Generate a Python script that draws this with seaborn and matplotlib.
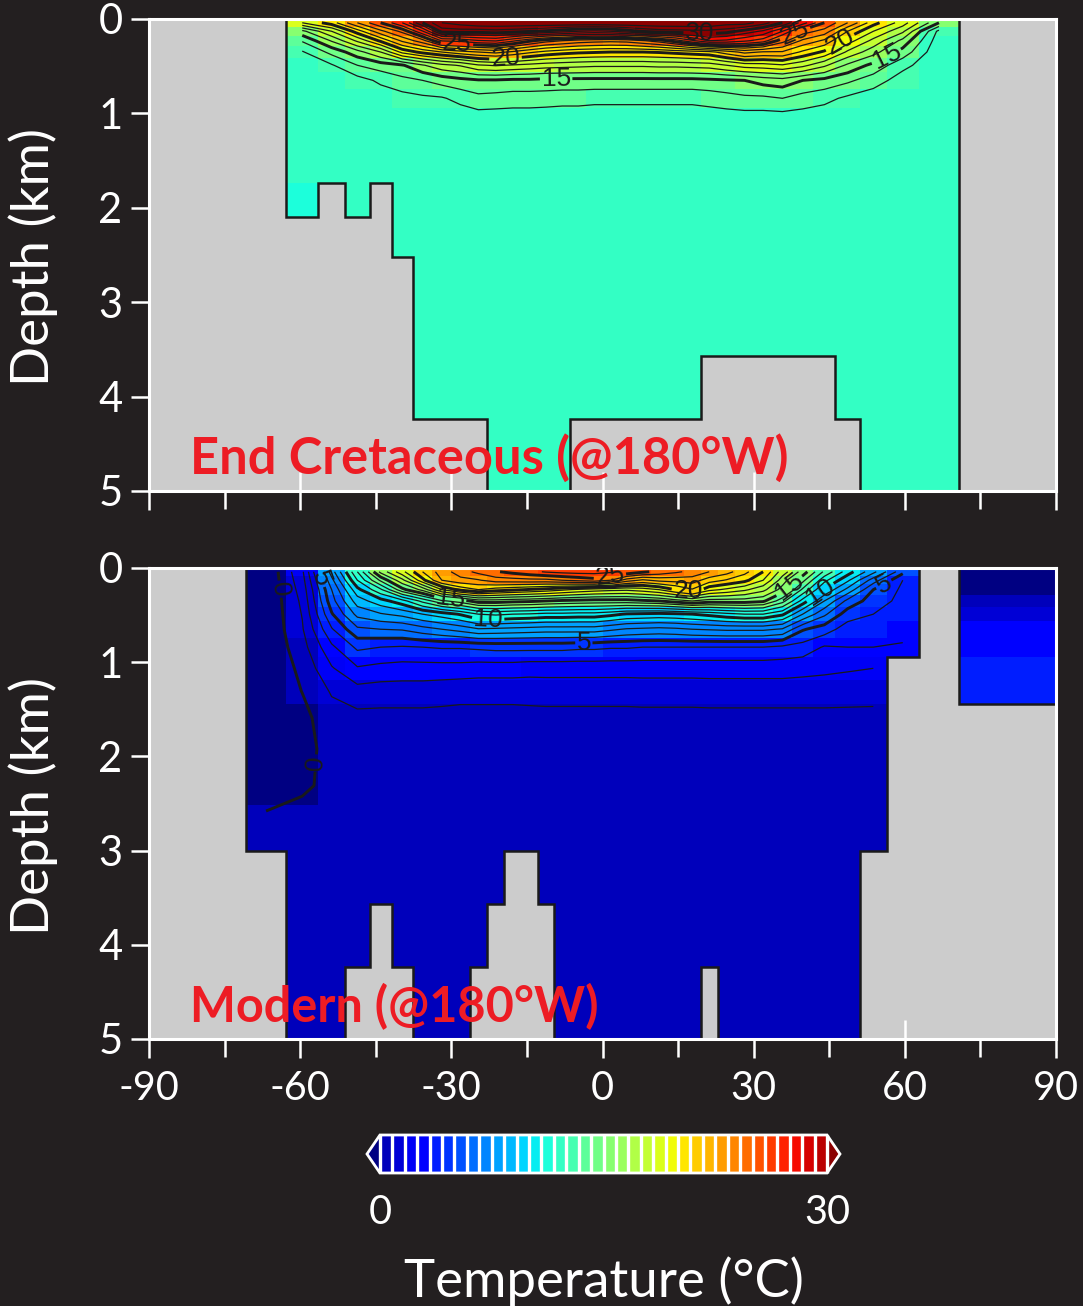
import matplotlib
matplotlib.use('Agg')
import matplotlib.pyplot as plt
from matplotlib.colors import BoundaryNorm, ListedColormap
import numpy as np
import seaborn as sns

# equal-area model grid, edges of the 36 latitude columns
lat_edges = [-90, -70.81, -62.73, -56.44, -51.06, -46.24, -41.81, -37.67, -33.75, -30,
             -26.39, -22.89, -19.47, -16.13, -12.84, -9.59, -6.38, -3.19, 0,
             3.19, 6.38, 9.59, 12.84, 16.13, 19.47, 22.89, 26.39, 30,
             33.75, 37.67, 41.81, 46.24, 51.06, 56.44, 62.73, 70.81, 90]
lat_mid = [-80.4, -66.77, -59.59, -53.75, -48.65, -44.03, -39.74, -35.71, -31.88, -28.2,
           -24.64, -21.18, -17.8, -14.49, -11.22, -7.99, -4.79, -1.6, 1.6,
           4.79, 7.99, 11.22, 14.49, 17.8, 21.18, 24.64, 28.2, 31.88,
           35.71, 39.74, 44.03, 48.65, 53.75, 59.59, 66.77, 80.4]
depth_edges = [0, 0.08, 0.175, 0.285, 0.415, 0.565, 0.74, 0.945, 1.185, 1.44,
               1.74, 2.1, 2.52, 3.0, 3.57, 4.24, 5.0]
depth_mid = [0.04, 0.13, 0.23, 0.35, 0.49, 0.65, 0.84, 1.065, 1.31, 1.59,
             1.92, 2.31, 2.76, 3.29, 3.9, 4.62]

# ocean floor (km) of each column, 0 is land
floor_cret = [0, 0, 2.1, 1.74, 2.1, 1.74, 2.52, 4.24, 4.24, 4.24, 4.24, 5, 5, 5, 5, 5,
              4.24, 4.24, 4.24, 4.24, 4.24, 4.24, 4.24, 4.24,
              3.57, 3.57, 3.57, 3.57, 3.57, 3.57, 3.57, 4.24, 5, 5, 5, 0]
floor_mod = [0, 3.0, 5, 5, 4.24, 3.57, 4.24, 5, 5, 5, 4.24, 3.57, 3.0, 3.0, 3.57,
             5, 5, 5, 5, 5, 5, 5, 5, 5, 4.24, 5, 5, 5, 5, 5, 5, 5, 3.0, 0.95, 0, 1.44]

# End Cretaceous temperature, rows by depth, columns from the wall at -62.7 to 70.8
cret_rows = [
    [19, 20.5, 23, 25, 27, 30, 32, 32.5, 33, 33, 33, 33, 33, 33, 33, 33, 33, 33, 33, 33, 33, 33, 33, 32.5, 32.5, 31.5, 30, 27.5, 25, 23, 20.4, 18.5, 15],
    [15.7, 18, 20.5, 22.7, 24.3, 26.9, 30.4, 30.5, 30.4, 30.6, 30.4, 30.1, 29.8, 29.4, 29, 28.8, 29, 29.5, 30.1, 30.5, 30.6, 30.7, 30.7, 30.4, 29.6, 28.8, 27, 24.5, 23.6, 21, 19, 17.2, 12.7],
    [14.1, 16.1, 18.2, 20.2, 22.2, 23.6, 26.1, 26.3, 26.9, 27.1, 26.2, 25.2, 24.4, 24, 23.6, 23.4, 23.3, 23.4, 23.9, 24.5, 25.5, 26.8, 28, 27.8, 27.2, 26.5, 24.4, 22.8, 21.8, 19.5, 17.7, 15.7, 12.4],
    [12.9, 14.3, 15.6, 17, 19.3, 20.3, 21, 21.6, 22, 22.3, 21.8, 21.2, 20.7, 20.4, 20.2, 20.1, 20, 20, 20, 20.1, 20.3, 20.5, 20.7, 21.5, 22.3, 21.9, 21.9, 20.8, 19.8, 17.8, 16.4, 14.6, 12.2],
    [12.3, 12.9, 14, 14.5, 14.9, 15.9, 16.7, 17.1, 17.9, 18.1, 17.9, 17.7, 17.5, 17.4, 17.3, 17.2, 17.2, 17.2, 17.2, 17.3, 17.3, 17.4, 17.5, 18, 18.5, 18.6, 18.9, 18.3, 17.2, 15.8, 14.7, 13.3, 12.2],
    [12.2, 12.4, 12.6, 13.2, 13.7, 14, 14.4, 14.7, 14.9, 14.9, 14.8, 14.8, 14.7, 14.7, 14.7, 14.7, 14.7, 14.7, 14.7, 14.7, 14.7, 14.7, 14.8, 14.9, 15, 15.4, 15.6, 15, 14.7, 14.2, 13.5, 12.5, 12.2],
    [12.2, 12.2, 12.2, 12.4, 12.6, 12.8, 12.9, 13.3, 13.7, 13.6, 13.5, 13.5, 13.5, 13.4, 13.4, 13.3, 13.3, 13.3, 13.3, 13.3, 13.3, 13.3, 13.4, 13.6, 13.8, 13.8, 14, 13.6, 13.3, 12.8, 12.4, 12.2, 12.2],
    [12.2, 12.2, 12.2, 12.2, 12.2, 12.2, 12.3, 12.3, 12.4, 12.4, 12.4, 12.4, 12.3, 12.3, 12.3, 12.3, 12.3, 12.3, 12.3, 12.3, 12.3, 12.3, 12.4, 12.4, 12.4, 12.4, 12.4, 12.4, 12.3, 12.2, 12.2, 12.2, 12.2],
    [12.2] * 33,
    [12.2] * 33,
    [11.5] + [12.2] * 32,
    [12.2] * 33,
    [12.2] * 33,
    [12.2] * 33,
    [12.2] * 33,
    [12.2] * 33,
]

# Modern temperature, columns from the wall at -70.8 to 62.7
mod_rows = [
    [-0.9, 1.8, 7.5, 12, 16.3, 18.7, 21, 22.5, 23.5, 24.3, 24.9, 25.3, 25.7, 26.1, 26.3, 26.4, 26.4, 26.2, 25.8, 25.2, 24.7, 24.2, 23.7, 23, 22.4, 21.3, 20, 17.5, 15.6, 12.8, 10.5, 8.3, 5.3],
    [-0.9, 1.6, 6.7, 11, 14.2, 16.7, 19.7, 22, 22.7, 22.9, 23.5, 23.6, 23.7, 23.7, 24, 24.3, 24.6, 24, 22.5, 21.8, 22.3, 22.4, 22.5, 21.5, 20.9, 20.3, 19, 16.5, 14.3, 11.3, 9.2, 6.5, 4],
    [-0.9, 1.4, 6, 9.7, 11.8, 14.7, 16.3, 19, 20.3, 21, 20.5, 20.2, 19.9, 19.6, 19.2, 18.8, 18.5, 18.3, 18.2, 18.5, 19, 20, 20.9, 19.3, 18.8, 18.2, 17.3, 15.6, 12.8, 9.9, 7.7, 5, 3.8],
    [-0.9, 1.2, 5.6, 8.5, 9.6, 10.6, 12.3, 13.8, 14.5, 15.5, 15.5, 15.3, 15.2, 15, 14.8, 14.7, 14.6, 14.6, 14.6, 14.8, 15, 15.5, 16, 15.5, 15.5, 15.5, 15.2, 13.4, 10.6, 8, 5.7, 4.5, 3.7],
    [-0.9, 1.05, 4.9, 7.3, 7.9, 8.3, 9, 9.5, 10.1, 11, 11.2, 11, 10.9, 10.7, 10.7, 10.6, 10.6, 10.3, 9.9, 9.8, 9.7, 9.8, 10, 10.3, 10.7, 11, 11, 10.2, 8, 6.2, 4.5, 4, 3.5],
    [-0.9, 0.9, 3.9, 5.8, 6, 6.1, 6.6, 7, 7.4, 7.9, 7.8, 7.7, 7.6, 7.5, 7.5, 7.5, 7.5, 7.2, 6.9, 6.8, 6.7, 6.8, 7, 7.1, 7.2, 7.2, 7.2, 6.9, 5.1, 4.5, 3.5, 3.5, 3.3],
    [-0.9, 0.6, 2.8, 4.2, 4, 3.9, 4, 4.1, 4.1, 4.2, 4.3, 4.3, 4.3, 4.3, 4.3, 4.2, 4.2, 4.1, 4.1, 4, 4, 4, 4, 4, 4, 4, 4, 3.8, 3.6, 2.9, 3, 3, 2.9],
    [-0.9, 0.25, 1.9, 2.9, 2.7, 2.6, 2.6, 2.6, 2.6, 2.5, 2.5, 2.5, 2.4, 2.4, 2.4, 2.4, 2.4, 2.4, 2.4, 2.4, 2.4, 2.4, 2.4, 2.4, 2.4, 2.4, 2.4, 2.4, 2.3, 2.2, 2.1, 2, 2],
    [-0.9, 0.02, 1.1, 1.6, 1.5, 1.5, 1.5, 1.4, 1.3, 1.3, 1.3, 1.3, 1.35, 1.4, 1.4, 1.4, 1.4, 1.4, 1.4, 1.45, 1.45, 1.45, 1.45, 1.5, 1.5, 1.5, 1.5, 1.5, 1.5, 1.5, 1.45, 1.4, 1.4],
    [-0.9, -0.3, 0.6] + [0.7] * 30,
    [-0.9, -0.4, 0.4] + [0.7] * 30,
    [-0.9, -0.2, 0.3] + [0.7] * 30,
    [0.6, 0.6] + [0.7] * 31,
    [0.7] * 33,
    [0.7] * 33,
    [0.7] * 33,
]
# the small basin north of 70.8
arctic_col = [-1, -1, -1, 0.7, 1.5, 2.9, 2.9, 3.9, 3.9, 3.9, 3.9, 3.9, 3.9, 3.9, 3.9, 3.9]

cret_labels = [(-28.9, .28), (-19.3, .38), (-9.2, .61), (19.3, .15), (38.6, .2), (47.5, .28), (56.2, .38)]
mod_labels = [(-63.4, .22), (-56.9, 2.07), (-56.5, .13), (-30.3, .37), (-22.7, .54), (-3.7, .78),
              (1.5, .1), (17, .22), (37.2, .2), (43.6, .29), (55.9, .18)]

x_major = [-90, -60, -30, 0, 30, 60, 90]
x_minor = [-75, -45, -15, 15, 45, 75]
y_ticks = [0, 1, 2, 3, 4, 5]

BG = '#231f20'
W, H = 1083, 1306

sns.set_theme(style='dark')
plt.rcParams['font.family'] = ['Lato', 'DejaVu Sans']
plt.rcParams['axes.unicode_minus'] = False

pal = sns.mpl_palette('jet', 38)
cmap = ListedColormap(pal[1:-1])
cmap.set_under('#000082')
cmap.set_over('#8b0000')
norm = BoundaryNorm(np.linspace(0, 30, 37), 36)


def build_field(rows, first_col, floor, extra=None):
    field = np.full((16, 36), np.nan)
    rows = np.array(rows, dtype=float)
    field[:, first_col:first_col + rows.shape[1]] = rows
    if extra is not None:
        field[:, 35] = extra
    field[np.array(depth_mid)[:, None] > np.array(floor)[None, :]] = np.nan
    return field


fig = plt.figure(figsize=(W / 100, H / 100), dpi=100, facecolor=BG)
ax1 = fig.add_axes([149 / W, 1 - 491 / H, 907 / W, 472 / H])
ax2 = fig.add_axes([149 / W, 1 - 1039 / H, 907 / W, 471 / H])

panels = [
    (ax1, build_field(cret_rows, 2, floor_cret), floor_cret, range(13, 34), [15, 20, 25, 30], cret_labels,
     'End Cretaceous (@180°W)', 36.4),
    (ax2, build_field(mod_rows, 1, floor_mod, arctic_col), floor_mod, range(0, 27), [0, 5, 10, 15, 20, 25], mod_labels,
     'Modern (@180°W)', 35),
]

for ax, field, floor, levels, bold, labels, title, title_size in panels:
    ax.set_facecolor('#cccccc')
    mesh = ax.pcolormesh(lat_edges, depth_edges, field, cmap=cmap, norm=norm)
    thin = [v for v in levels if v not in bold]
    ax.contour(lat_mid, depth_mid, field, levels=thin, colors='k', linewidths=0.9)
    cs = ax.contour(lat_mid, depth_mid, field, levels=bold, colors='k', linewidths=2.1)
    ax.stairs(floor, lat_edges, color='k', linewidth=1.8, baseline=None, zorder=2.4)
    ax.set_xlim(-90, 90)
    ax.set_ylim(5, 0)
    texts = ax.clabel(cs, fmt='%d', fontsize=19, manual=labels, inline=True, inline_spacing=1)
    for t in texts:
        t.set_family('Liberation Sans')
        t.set_color('k')
    ax.set_xticks(x_major)
    ax.set_xticks(x_minor, minor=True)
    ax.set_yticks(y_ticks)
    ax.tick_params(axis='x', which='major', direction='inout', length=27, width=1.8, color='w', bottom=True)
    ax.tick_params(axis='x', which='minor', direction='out', length=13, width=1.8, color='w', bottom=True)
    ax.tick_params(axis='y', direction='out', length=13, width=1.8, color='w', left=True,
                   labelcolor='w', labelsize=30, pad=6)
    ax.set_ylabel('Depth (km)', color='w', fontsize=38)
    ax.yaxis.set_label_coords(-0.1, 0.495)
    ax.grid(False)
    for s in ax.spines.values():
        s.set_color('w')
        s.set_linewidth(2.2)
        s.set_visible(True)
    ax.text(41 / 907, 17 / 472, title, transform=ax.transAxes, color='#ed1c24', fontsize=title_size,
            fontweight='bold', va='baseline', zorder=6)

ax1.tick_params(axis='x', labelbottom=False)
ax2.set_xticklabels([str(v) for v in x_major])
ax2.tick_params(axis='x', which='major', labelcolor='w', labelsize=28.5, pad=9)

# colour bar with the two overflow arrows
cax = fig.add_axes([367 / W, 1 - 1173 / H, 473 / W, 38 / H])
cb = fig.colorbar(mesh, cax=cax, orientation='horizontal', extend='both', extendfrac=0.029,
                  drawedges=True, ticks=[0, 30])
cb.dividers.set_color('w')
cb.dividers.set_linewidth(2.4)
cb.outline.set_edgecolor('w')
cb.outline.set_linewidth(2)
cb.minorticks_off()
cax.tick_params(axis='x', length=0, labelcolor='w', labelsize=28.5, pad=15)
cb.set_label('Temperature (°C)', color='w', fontsize=38, labelpad=18)

fig.savefig('out.png', dpi=100, facecolor=BG)
